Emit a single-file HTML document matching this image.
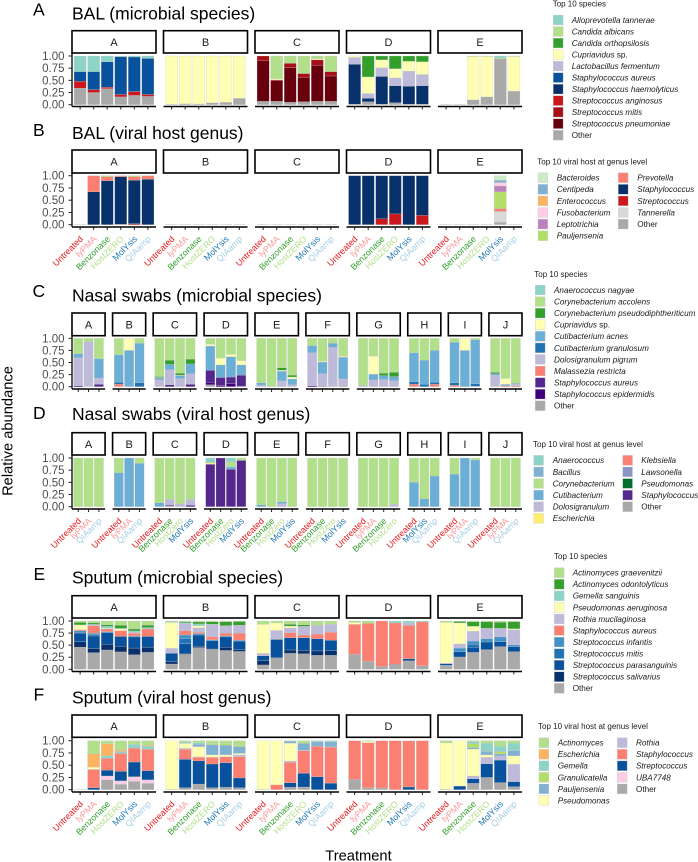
<!DOCTYPE html>
<html lang="en">
<head>
<meta charset="utf-8">
<title>Relative abundance by treatment</title>
<style>
html,body{margin:0;padding:0;background:#fff;}
svg{display:block;font-family:"Liberation Sans",Arial,sans-serif;}
</style>
</head>
<body>
<svg id="figure" width="698" height="862" viewBox="0 0 698 862" xmlns="http://www.w3.org/2000/svg">
  <rect x="0" y="0" width="698" height="862" fill="#ffffff"/>
  <g font-size="17.5" fill="#000">
    <text x="33" y="15.5">A</text>
    <text x="33" y="136">B</text>
    <text x="32.5" y="297">C</text>
    <text x="33" y="419">D</text>
    <text x="33.5" y="580">E</text>
    <text x="33.5" y="700.5">F</text>
  </g>
  <g font-size="17.5" fill="#000">
    <text x="72" y="19.3">BAL (microbial species)</text>
    <text x="72" y="139">BAL (viral host genus)</text>
    <text x="72" y="301.7">Nasal swabs (microbial species)</text>
    <text x="72" y="420">Nasal swabs (viral host genus)</text>
    <text x="72" y="583.3">Sputum (microbial species)</text>
    <text x="72" y="703.3">Sputum (viral host genus)</text>
  </g>
  <text transform="translate(12.5,431) rotate(-90)" text-anchor="middle" font-size="14.7" fill="#000">Relative abundance</text>
  <text x="358.5" y="860.5" text-anchor="middle" font-size="14.7" fill="#000">Treatment</text>
  <g font-size="8" fill="#1a1a1a">
    <text x="552.7" y="6.3">Top 10 species</text>
    <text x="537.3" y="164.5">Top 10 viral host at genus level</text>
    <text x="534.3" y="276.8">Top 10 species</text>
    <text x="533" y="446.8">Top 10 viral host at genus level</text>
    <text x="554" y="558.8">Top 10 species</text>
    <text x="538" y="729.2">Top 10 viral host at genus level</text>
  </g>
  <g id="plots"></g>
  <g id="legends"></g>
</svg>
<script>
// ---- Shared categories and tick labels ----
const treatmentsAll = ['Untreated','lyPMA','Benzonase','HostZERO','MolYsis','QIAamp'];
const facetsFive = ['A','B','C','D','E'];
const facetsTen = ['A','B','C','D','E','F','G','H','I','J'];
const yTickValues = [0,0.25,0.5,0.75,1];
const yTickLabels = ['0.00','0.25','0.50','0.75','1.00'];
const treatmentColourNames = ['Untreated','lyPMA','Benzonase','HostZERO','HostZero','MolYsis','QIAamp'];
const treatmentColours = ['#E31A1C','#FB9A99','#33A02C','#B2DF8A','#B2DF8A','#1F78B4','#A6CEE3'];

// ---- Nasal facet treatments ----
const nasalMicrobialTreatments = [
 ['Untreated','lyPMA','QIAamp'],['Untreated','lyPMA','QIAamp'],
 ['Untreated','Benzonase','HostZero','MolYsis'],['Untreated','Benzonase','HostZero','MolYsis'],
 ['Untreated','Benzonase','HostZero','MolYsis'],['Untreated','Benzonase','HostZero','MolYsis'],
 ['Untreated','lyPMA','Benzonase','HostZero'],['Untreated','MolYsis','QIAamp'],
 ['Untreated','lyPMA','QIAamp'],['Untreated','lyPMA','QIAamp']];

// ---- BAL microbial species ----
const balMicrobialSeries = ['Alloprevotella tannerae','Candida albicans','Candida orthopsilosis','Cupriavidus sp.','Lactobacillus fermentum','Staphylococcus aureus','Staphylococcus haemolyticus','Streptococcus anginosus','Streptococcus mitis','Streptococcus pneumoniae','Other'];
const balMicrobialColours = ['#8DD3C7','#B2DF8A','#33A02C','#FFFFB3','#BEBADA','#08519C','#08306B','#CB181D','#A50F15','#67000D','#A9A9A9'];
const balMicrobialValues = [
 [[.32,0,0,0,0,.20,0,.14,0,0,.34],[.32,0,0,0,0,.37,0,.06,0,0,.25],[.12,0,0,0,0,.52,0,.03,0,0,.33],[.015,0,0,0,0,.775,0,.05,0,0,.16],[.02,0,0,0,0,.71,0,.08,0,0,.19],[.05,0,0,0,0,.74,0,.04,0,0,.17]],
 [[0,0,0,.99,0,0,0,0,0,0,.01],[0,0,0,.98,0,0,0,0,0,0,.02],[0,0,0,.985,0,0,0,0,0,0,.015],[0,0,0,.96,0,0,0,0,0,0,.04],[0,0,0,.95,0,0,0,0,0,0,.05],[0,0,0,.87,0,0,0,0,0,0,.13]],
 [[0,0,0,0,0,0,0,0,.10,.83,.07],[0,.47,0,.02,0,0,0,0,.02,.42,.07],[0,.15,0,0,0,0,0,0,.09,.71,.05],[0,.36,0,0,0,0,0,0,.08,.50,.06],[0,.06,0,.02,0,0,0,0,.11,.74,.07],[0,.32,0,0,0,0,0,0,.09,.52,.07]],
 [[0,0,0,.03,.14,0,.82,0,0,0,.01],[0,0,.43,.34,.10,0,.07,0,0,0,.06],[0,0,.08,.16,.18,0,.57,0,0,0,.01],[0,0,.26,.19,.16,0,.35,0,0,0,.04],[0,0,.11,.20,.31,0,.37,0,0,0,.01],[0,0,.12,.26,.23,0,.38,0,0,0,.01]],
 [[0,0,0,0,0,0,0,0,0,0,0],[0,0,0,0,0,0,0,0,0,0,0],[0,.01,0,.89,0,0,0,0,0,0,.10],[0,.01,0,.83,0,0,0,0,0,0,.16],[.04,.015,0,0,0,0,0,0,0,0,.945],[0,.01,0,.71,0,0,0,0,0,0,.28]]
];

// ---- BAL viral host genus ----
const balViralSeries = ['Bacteroides','Centipeda','Enterococcus','Fusobacterium','Leptotrichia','Pauljensenia','Prevotella','Staphylococcus','Streptococcus','Tannerella','Other'];
const balViralColours = ['#CCEBC5','#80B1D3','#FDB462','#FCCDE5','#BC80BD','#B3DE69','#FB8072','#08306B','#CB181D','#D9D9D9','#A9A9A9'];
const balViralValues = [
 [[0,0,0,0,0,0,0,0,0,0,0],[0,0,0,0,0,0,.33,.67,0,0,0],[0,0,0,0,0,.02,.08,.90,0,0,0],[0,0,0,0,0,0,.02,.97,.01,0,0],[0,0,0,0,0,.02,.07,.89,.02,0,0],[0,0,0,0,0,0,.07,.93,0,0,0]],
 [[0,0,0,0,0,0,0,0,0,0,0],[0,0,0,0,0,0,0,0,0,0,0],[0,0,0,0,0,0,0,0,0,0,0],[0,0,0,0,0,0,0,0,0,0,0],[0,0,0,0,0,0,0,0,0,0,0],[0,0,0,0,0,0,0,0,0,0,0]],
 [[0,0,0,0,0,0,0,0,0,0,0],[0,0,0,0,0,0,0,0,0,0,0],[0,0,0,0,0,0,0,0,0,0,0],[0,0,0,0,0,0,0,0,0,0,0],[0,0,0,0,0,0,0,0,0,0,0],[0,0,0,0,0,0,0,0,0,0,0]],
 [[0,0,0,0,0,0,0,1,0,0,0],[0,0,0,0,0,0,0,1,0,0,0],[0,0,0,0,0,0,0,.88,.12,0,0],[0,0,0,0,0,0,0,.78,.22,0,0],[0,0,0,0,0,0,0,1,0,0,0],[0,0,0,0,0,0,0,.81,.19,0,0]],
 [[0,0,0,0,0,0,0,0,0,0,0],[0,0,0,0,0,0,0,0,0,0,0],[0,0,0,0,0,0,0,0,0,0,0],[0,0,0,0,0,0,0,0,0,0,0],[.09,.05,0,.07,.12,.34,.06,0,0,.22,.05],[0,0,0,0,0,0,0,0,0,0,0]]
];

// ---- Nasal swabs microbial species ----
const nasalMicrobialSeries = ['Anaerococcus nagyae','Corynebacterium accolens','Corynebacterium pseudodiphtheriticum','Cupriavidus sp.','Cutibacterium acnes','Cutibacterium granulosum','Dolosigranulum pigrum','Malassezia restricta','Staphylococcus aureus','Staphylococcus epidermidis','Other'];
const nasalMicrobialColours = ['#8DD3C7','#B2DF8A','#33A02C','#FFFFB3','#6BAED6','#2171B5','#BEBADA','#FB8072','#54278F','#3F007D','#A9A9A9'];
const nasalMicrobialValues = [
 [[0,.32,0,0,.08,0,.58,0,0,.02,0],[0,.07,0,0,.01,0,.91,0,0,0,.01],[0,.42,0,0,.40,0,.13,0,.05,0,0]],
 [[0,.34,0,0,.57,.04,0,.05,0,0,0],[0,0,0,.25,.75,0,0,0,0,0,0],[0,.10,0,0,.82,.08,0,0,0,0,0]],
 [[0,.79,.02,.01,.04,0,.13,0,0,0,.01],[0,.45,.09,0,.11,0,.31,0,.04,0,0],[0,.72,.04,.01,.06,0,.17,0,0,0,0],[0,.43,.10,0,.20,0,.22,0,.05,0,0]],
 [[0,.12,0,.04,.50,0,0,0,.25,.05,.04],[0,.41,0,.14,.26,0,0,0,.17,.02,0],[0,.33,0,.05,.42,0,0,0,.14,.06,0],[0,.46,0,.09,.21,0,0,0,.23,.01,0]],
 [[0,.92,0,0,.05,0,.03,0,0,0,0],[0,.99,0,0,.01,0,0,0,0,0,0],[0,.61,.05,.02,.20,0,.12,0,0,0,0],[0,.76,.04,.04,.12,0,.04,0,0,0,0]],
 [[0,.15,0,0,.15,0,.68,0,0,.02,0],[0,.47,0,.02,.24,0,.26,0,0,.01,0],[0,.10,0,0,.09,0,.80,0,0,0,.01],[0,.37,0,.02,.45,0,.14,0,0,0,.02]],
 [[0,.97,0,0,.01,0,.02,0,0,0,0],[0,.37,0,.37,.12,0,.14,0,0,0,0],[0,.72,.05,0,.08,0,.14,.01,0,0,0],[0,.70,.09,0,.09,0,.12,0,0,0,0]],
 [[0,.30,0,0,.60,.05,0,.05,0,0,0],[0,.45,0,0,.50,.05,0,0,0,0,0],[0,.25,0,0,.66,.04,0,.05,0,0,0]],
 [[0,.08,0,0,.84,.05,0,.03,0,0,0],[0,0,0,.25,.75,0,0,0,0,0,0],[0,.03,0,0,.91,.05,0,0,0,0,.01]],
 [[0,.70,.03,0,.03,0,.22,.01,0,0,.01],[0,.83,0,.12,.03,0,0,.02,0,0,0],[0,.93,0,0,.02,0,.03,.02,0,0,0]]
];

// ---- Nasal swabs viral host genus ----
const nasalViralSeries = ['Anaerococcus','Bacillus','Corynebacterium','Cutibacterium','Dolosigranulum','Escherichia','Klebsiella','Lawsonella','Pseudomonas','Staphylococcus','Other'];
const nasalViralColours = ['#8DD3C7','#80B1D3','#B2DF8A','#6BAED6','#BEBADA','#FFED6F','#FB8072','#8C96C6','#006D2C','#54278F','#A9A9A9'];
const nasalViralValues = [
 [[0,0,1,0,0,0,0,0,0,0,0],[0,0,1,0,0,0,0,0,0,0,0],[0,0,1,0,0,0,0,0,0,0,0]],
 [[0,0,.30,.70,0,0,0,0,0,0,0],[0,0,0,1,0,0,0,0,0,0,0],[0,0,.11,.89,0,0,0,0,0,0,0]],
 [[0,0,.92,.08,0,0,0,0,0,0,0],[0,0,.85,0,.12,0,0,0,0,.02,.01],[0,0,.94,0,.06,0,0,0,0,0,0],[0,0,.85,0,.12,0,0,0,0,.03,0]],
 [[.10,0,0,0,0,.03,0,0,0,.87,0],[0,0,0,0,0,0,0,0,0,1,0],[.08,0,.10,.05,0,0,0,0,0,.77,0],[0,0,.05,0,0,0,0,0,0,.95,0]],
 [[0,0,.96,.04,0,0,0,0,0,0,0],[0,0,1,0,0,0,0,0,0,0,0],[0,0,.90,.04,.06,0,0,0,0,0,0],[0,0,1,0,0,0,0,0,0,0,0]],
 [[0,0,1,0,0,0,0,0,0,0,0],[0,0,1,0,0,0,0,0,0,0,0],[0,0,1,0,0,0,0,0,0,0,0],[0,0,1,0,0,0,0,0,0,0,0]],
 [[0,0,1,0,0,0,0,0,0,0,0],[0,0,1,0,0,0,0,0,0,0,0],[0,0,1,0,0,0,0,0,0,0,0],[0,0,.95,0,.05,0,0,0,0,0,0]],
 [[0,0,.50,.50,0,0,0,0,0,0,0],[0,0,.84,.15,0,0,0,0,0,.01,0],[0,0,.37,.63,0,0,0,0,0,0,0]],
 [[0,0,.33,.66,0,0,0,0,0,.01,0],[0,0,0,1,0,0,0,0,0,0,0],[0,0,.04,.96,0,0,0,0,0,0,0]],
 [[0,0,1,0,0,0,0,0,0,0,0],[0,0,1,0,0,0,0,0,0,0,0],[0,0,1,0,0,0,0,0,0,0,0]]
];

// ---- Sputum microbial species ----
const sputumMicrobialSeries = ['Actinomyces graevenitzii','Actinomyces odontolyticus','Gemella sanguinis','Pseudomonas aeruginosa','Rothia mucilaginosa','Staphylococcus aureus','Streptococcus infantis','Streptococcus mitis','Streptococcus parasanguinis','Streptococcus salivarius','Other'];
const sputumMicrobialColours = ['#B2DF8A','#33A02C','#8DD3C7','#FFFFB3','#BEBADA','#FB8072','#4292C6','#2171B5','#08519C','#08306B','#A9A9A9'];
const sputumMicrobialValues = [
 [[.03,.05,0,.10,0,.02,.03,.02,.18,.11,.46],[.04,.03,.01,0,.02,.15,.03,.03,.26,.085,.345],[.08,.03,.04,.015,0,.055,.02,0,.24,.12,.40],[.09,.06,.015,.035,0,.12,0,0,.205,.115,.36],[.165,.04,.03,0,.02,.055,.02,0,.23,.14,.30],[.085,.05,.03,0,0,.155,0,0,.22,.11,.35]],
 [[.01,0,.02,.535,.105,0,0,0,.17,.05,.11],[.015,.02,.02,0,.145,.09,.08,.10,.20,.02,.31],[.02,.04,.04,.04,.095,.025,.03,0,.23,.03,.45],[.015,.05,.015,0,.245,.065,.02,0,.17,.01,.41],[.015,.08,0,0,.155,.06,.02,0,.215,.065,.39],[.01,.075,0,0,.165,.145,.02,0,.18,.035,.37]],
 [[.07,0,0,.60,.05,0,0,0,.10,.09,.09],[.04,0,0,.155,.165,.01,.02,0,.37,.01,.23],[.07,.035,0,.04,.095,.105,0,0,.255,.07,.33],[.08,.03,0,0,.18,.055,0,0,.26,.075,.32],[.09,0,0,0,.18,.095,0,0,.255,.09,.29],[.07,0,0,0,.165,.165,0,0,.215,.095,.29]],
 [[.03,0,0,.04,0,.62,0,0,0,0,.31],[.05,0,0,0,0,.785,0,0,0,0,.165],[0,0,0,0,0,.94,0,0,0,0,.06],[0,0,.04,0,0,.86,0,0,.01,0,.09],[0,0,.035,0,.055,.69,0,0,.03,.02,.17],[0,0,.02,0,0,.905,0,0,0,0,.075]],
 [[.03,0,0,.84,.015,0,0,0,.03,.01,.075],[.01,.03,0,.435,.085,0,.075,0,.11,0,.255],[.015,.095,0,.10,.205,0,.065,.065,.105,0,.35],[.015,.135,0,0,.215,0,.07,0,.155,.01,.40],[.025,.125,0,0,.18,0,.10,0,.10,0,.47],[.015,.145,0,.02,.315,0,.035,0,.105,0,.365]]
];

// ---- Sputum viral host genus ----
const sputumViralSeries = ['Actinomyces','Escherichia','Gemella','Granulicatella','Pauljensenia','Pseudomonas','Rothia','Staphylococcus','Streptococcus','UBA7748','Other'];
const sputumViralColours = ['#B2DF8A','#FDB462','#8DD3C7','#B3DE69','#80B1D3','#FFFFB3','#BEBADA','#FB8072','#08519C','#FCCDE5','#A9A9A9'];
const sputumViralValues = [
 [[0,0,0,0,0,0,0,0,0,0,0],[.27,.27,0,0,0,.04,.01,.37,.04,0,0],[.06,.25,.05,0,0,0,0,.24,.12,.08,.20],[.19,.03,.04,0,0,0,0,.365,.195,.07,.11],[.075,0,.075,0,0,0,0,.285,.30,.095,.17],[.095,.02,.06,0,0,0,0,.435,.19,.07,.13]],
 [[0,0,0,0,0,.995,0,0,0,0,.005],[.025,0,.02,0,.01,.10,.02,.205,.58,0,.04],[.04,0,.03,0,.05,.21,.01,.07,.475,0,.115],[.06,0,0,.02,.21,.05,0,.135,.485,0,.04],[.06,0,0,.03,.20,.035,0,.125,.50,0,.05],[.10,0,0,.02,.14,.03,.035,.435,.20,0,.04]],
 [[0,0,0,0,0,.995,0,0,0,0,.005],[0,0,0,0,0,.90,0,.10,0,0,0],[.01,0,0,0,.04,.365,.025,.42,.09,0,.05],[.035,0,0,.02,.14,0,.01,.46,.28,0,.055],[0,0,.025,0,.09,0,0,.62,.265,0,0],[0,0,.025,0,.10,0,.01,.73,.135,0,0]],
 [[0,0,0,0,0,0,0,.79,0,0,.21],[.01,0,0,0,0,.03,0,.92,0,0,.04],[0,0,0,0,0,0,0,.965,0,0,.035],[0,0,0,0,0,0,0,1,0,0,0],[.005,0,0,0,0,0,0,.94,.055,0,0],[0,0,0,0,0,0,0,1,0,0,0]],
 [[.045,0,0,0,0,.945,0,0,0,0,.01],[0,0,0,0,0,.925,0,0,.075,0,0],[.02,0,.04,.08,.03,.55,.055,0,.095,0,.13],[.055,0,.165,0,.07,.05,.13,0,.28,0,.25],[.115,0,.11,.045,.04,0,.085,0,.46,0,.145],[.055,0,.15,0,.105,.17,.355,0,.105,0,.06]]
];

// ---- Layout (kept apart from the data above) ----
const plotLeft = 72, plotRight = 522, panelGap = 7.5;
const barStroke = '#c9c9c9';
const SVGNS = 'http://www.w3.org/2000/svg';

const rows = [
 {facets:facetsFive, values:balMicrobialValues, colours:balMicrobialColours, stripTop:30.7, stripBottom:53, y1:56, y0:104.7, axisY:106.5, labels:null},
 {facets:facetsFive, values:balViralValues, colours:balViralColours, stripTop:150, stripBottom:173, y1:175.7, y0:224.7, axisY:227, labels:'all'},
 {facets:facetsTen, values:nasalMicrobialValues, colours:nasalMicrobialColours, stripTop:313, stripBottom:335.7, y1:338.3, y0:386.7, axisY:389, labels:null},
 {facets:facetsTen, values:nasalViralValues, colours:nasalViralColours, stripTop:432.7, stripBottom:455, y1:458, y0:506.7, axisY:509, labels:nasalMicrobialTreatments},
 {facets:facetsFive, values:sputumMicrobialValues, colours:sputumMicrobialColours, stripTop:595.7, stripBottom:618, y1:621, y0:669.3, axisY:671.5, labels:null},
 {facets:facetsFive, values:sputumViralValues, colours:sputumViralColours, stripTop:715, stripBottom:737.3, y1:740.7, y0:789.7, axisY:792, labels:'all'}
];

const legends = [
 {series:balMicrobialSeries, colours:balMicrobialColours, top:20, step:11.52, keyX:553.3, labelX:571.7, split:11},
 {series:balViralSeries, colours:balViralColours, top:177.7, step:11.6, keyX:538, labelX:556.7, split:6, key2X:618.3, label2X:637.3},
 {series:nasalMicrobialSeries, colours:nasalMicrobialColours, top:290, step:11.57, keyX:535.3, labelX:554, split:11},
 {series:nasalViralSeries, colours:nasalViralColours, top:460.3, step:11.6, keyX:533.7, labelX:552.7, split:6, key2X:622.7, label2X:641.3},
 {series:sputumMicrobialSeries, colours:sputumMicrobialColours, top:572.7, step:11.56, keyX:554.3, labelX:572.7, split:11},
 {series:sputumViralSeries, colours:sputumViralColours, top:742.7, step:11.55, keyX:539, labelX:557.7, split:6, key2X:617.3, label2X:636}
];

function mk(tag, attrs, parent){
  const el = document.createElementNS(SVGNS, tag);
  for (const k in attrs) el.setAttribute(k, attrs[k]);
  parent.appendChild(el);
  return el;
}

const plots = document.getElementById('plots');
const legendRoot = document.getElementById('legends');

rows.forEach(function(row){
  const g = mk('g', {}, plots);
  
  

  const yScale = function(v){ return row.y0 + (row.y1 - row.y0) * v; };
  const unitsTotal = row.values.reduce(function(s, p){ return s + p.length + 0.2; }, 0);
  const unitWidth = (plotRight - plotLeft - panelGap * (row.values.length - 1)) / unitsTotal;
  let panelX = plotLeft;

  row.values.forEach(function(panelBars, pi){
    const panelW = (panelBars.length + 0.2) * unitWidth;
    const xScale = function(i){ return panelX + (i + 0.6) * unitWidth; };
    const barW = 0.9 * unitWidth;

    const strip = mk('rect', {x:panelX, y:row.stripTop, width:panelW, height:row.stripBottom-row.stripTop, fill:'#fff', stroke:'#000', 'stroke-width':1.6}, g);
    
    

    const stripText = mk('text', {x:panelX+panelW/2, y:(row.stripTop+row.stripBottom)/2+4, 'text-anchor':'middle', 'font-size':11, fill:'#1a1a1a'}, g);
    
    
    stripText.textContent = row.facets[pi];

    panelBars.forEach(function(vals, bi){
      const cx = xScale(bi);
      const left = cx - barW/2;
      const total = vals.reduce(function(a,b){return a+b;}, 0);
      if (total === 0){
        const flat = mk('path', {d:'M'+left+' '+yScale(0)+'H'+(left+barW), stroke:barStroke, 'stroke-width':0.6, fill:'none'}, g);
        
        
      }
      let cum = 0;
      for (let s = vals.length - 1; s >= 0; s--){
        if (vals[s] <= 0) continue;
        const yb = yScale(cum);
        cum += vals[s];
        const yt = yScale(cum);
        const seg = mk('rect', {x:left, y:yt, width:barW, height:yb-yt, fill:row.colours[s], stroke:barStroke, 'stroke-width':0.25}, g);
        
        
      }

      const tick = mk('line', {x1:cx, x2:cx, y1:row.axisY, y2:row.axisY+3, stroke:'#222', 'stroke-width':1}, g);
      
      

      if (row.labels){
        const name = row.labels === 'all' ? treatmentsAll[bi] : row.labels[pi][bi];
        const lx = cx + 3.5, ly = row.axisY + 12.5;
        const label = mk('text', {transform:'translate('+lx+','+ly+') rotate(-45)', 'text-anchor':'end', 'font-size':8.8, fill:treatmentColours[treatmentColourNames.indexOf(name)]}, g);
        
        
        label.textContent = name;
      }
    });

    const xAxis = mk('line', {x1:panelX, x2:panelX+panelW, y1:row.axisY, y2:row.axisY, stroke:'#000', 'stroke-width':1.5}, g);
    
    

    if (pi === 0){
      const yAxis = mk('line', {x1:panelX, x2:panelX, y1:row.stripBottom, y2:row.axisY, stroke:'#000', 'stroke-width':1.3}, g);
      
      
      yTickValues.forEach(function(v, ti){
        const yt = mk('line', {x1:panelX-3.5, x2:panelX, y1:yScale(v), y2:yScale(v), stroke:'#222', 'stroke-width':1}, g);
        
        
        const ytl = mk('text', {x:panelX-7.5, y:yScale(v)+4, 'text-anchor':'end', 'font-size':11.5, fill:'#4d4d4d'}, g);
        
        
        ytl.textContent = yTickLabels[ti];
      });
    }
    panelX += panelW + panelGap;
  });
});

legends.forEach(function(lg){
  const g = mk('g', {}, legendRoot);
  
  
  lg.series.forEach(function(name, i){
    const second = i >= lg.split;
    const row = second ? i - lg.split : i;
    const yc = lg.top + row * lg.step;
    const keyX = second ? lg.key2X : lg.keyX;
    const labelX = second ? lg.label2X : lg.labelX;

    const key = mk('rect', {x:keyX, y:yc-4.9, width:9.8, height:9.8, fill:lg.colours[i], stroke:barStroke, 'stroke-width':0.35}, g);
    
    

    const label = mk('text', {x:labelX, y:yc+2.9, 'font-size':8.15, fill:'#1a1a1a'}, g);
    
    
    if (name === 'Other'){
      label.textContent = name;
    } else if (name.endsWith(' sp.')){
      const it = mk('tspan', {'font-style':'italic'}, label);
      it.textContent = name.slice(0, -4);
      const rest = mk('tspan', {}, label);
      rest.textContent = ' sp.';
    } else {
      label.setAttribute('font-style', 'italic');
      label.textContent = name;
    }
  });
});
</script>
</body>
</html>
